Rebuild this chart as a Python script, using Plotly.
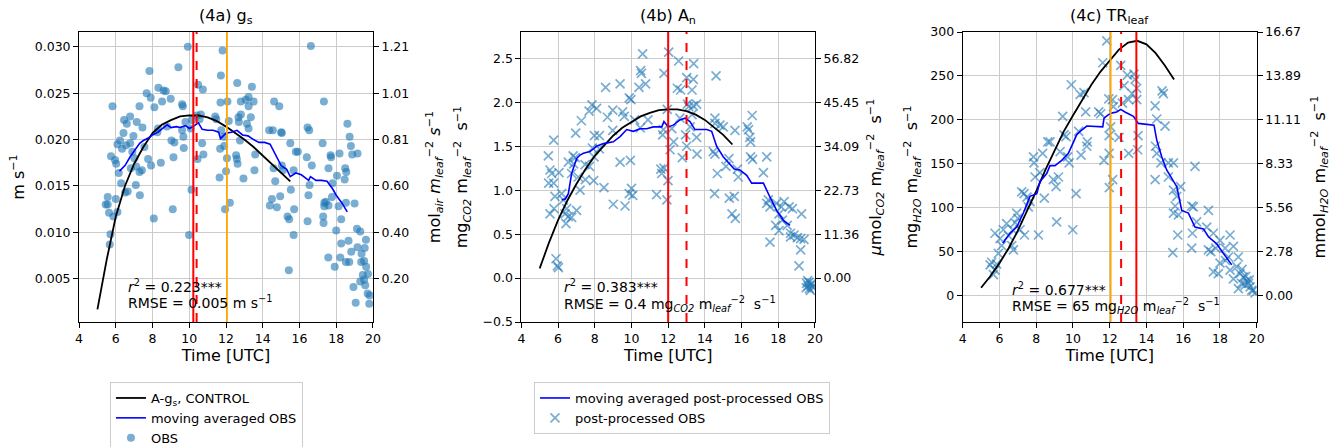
import plotly.graph_objects as go

FONT = "DejaVu Sans"
OBS_COLOR = "rgba(31,119,180,0.6)"

x_ticks = [4, 6, 8, 10, 12, 14, 16, 18, 20]

# ---------------- (4a) g_s ----------------
gs_ticks = [0.005, 0.010, 0.015, 0.020, 0.025, 0.030]
gs_range = [0.00033, 0.0316]
gs_to_mol = 40.3
gs_vlines_red = [10.22]
gs_vlines_red_dash = [10.40]
gs_vlines_orange = [12.05]

gs_model_t = [5, 5.5, 6, 6.5, 7, 7.5, 8, 8.5, 9, 9.5, 10, 10.5, 11, 11.5, 12, 12.5,
              13, 13.5, 14, 14.5, 15, 15.5]
gs_model = [0.0017, 0.0070, 0.0117, 0.0150, 0.0174, 0.0192, 0.0207, 0.0216, 0.0221,
            0.0225, 0.0226, 0.0226, 0.0224, 0.0220, 0.0214, 0.0207, 0.0200, 0.0192,
            0.0183, 0.0174, 0.0165, 0.0155]

gs_avg_t = [6.2, 6.5, 6.8, 7.0, 7.3, 7.5, 7.8, 8.0, 8.3, 8.6, 8.8, 9.0, 9.3, 9.5, 9.8,
            10.0, 10.2, 10.5, 10.7, 11.0, 11.3, 11.6, 11.7, 12.0, 12.3, 12.6, 12.9,
            13.2, 13.5, 13.8, 14.1, 14.4, 14.7, 15.0, 15.3, 15.5, 15.8, 16.1, 16.5,
            16.6, 16.9, 17.2, 17.5, 17.8, 18.0, 18.3, 18.6]
gs_avg = [0.0166, 0.0172, 0.0182, 0.0188, 0.0196, 0.0199, 0.0202, 0.0205, 0.0208,
          0.0213, 0.0216, 0.0213, 0.0214, 0.0213, 0.0215, 0.0212, 0.0214, 0.0218,
          0.0211, 0.0210, 0.0210, 0.0208, 0.0201, 0.0207, 0.0208, 0.0210, 0.0205,
          0.0204, 0.0200, 0.0197, 0.0197, 0.0195, 0.0184, 0.0172, 0.0168, 0.0160,
          0.0164, 0.0162, 0.0156, 0.0160, 0.0156, 0.0156, 0.0155, 0.0147, 0.0140,
          0.0132, 0.0122]

gs_obs_t = [9.92, 16.62, 11.81, 7.83, 9.41, 11.72, 12.61, 10.48, 10.74, 8.32,
            7.68, 7.90, 8.60, 8.72, 8.99, 8.52, 8.10, 7.29, 5.82, 9.61,
            9.65, 13.41, 12.08, 12.81, 13.08, 13.23, 13.50, 13.23, 11.70, 14.62,
            14.90, 17.33, 6.45, 6.60, 6.78, 7.14, 7.45, 6.96, 6.09, 6.23,
            6.34, 6.56, 6.78, 6.42, 7.01, 6.90, 5.74, 5.96, 6.02, 6.16,
            6.82, 7.11, 7.29, 7.42, 7.92, 7.76, 8.45, 9.14, 7.56, 8.30,
            8.26, 8.78, 9.03, 9.19, 9.68, 9.70, 9.61, 9.79, 10.08, 10.14,
            10.41, 10.63, 10.56, 10.70, 10.77, 10.45, 10.12, 9.99, 9.10, 8.07,
            7.09, 7.31, 6.65, 6.51, 6.29, 6.00, 5.56, 5.45, 5.56, 5.63,
            5.87, 6.09, 5.71, 5.67, 11.41, 11.47, 12.15, 12.68, 12.81, 12.70,
            13.14, 13.23, 13.35, 11.74, 11.89, 11.90, 12.05, 11.68, 12.55, 12.63,
            12.59, 12.76, 12.95, 11.65, 12.00, 13.55, 13.59, 12.21, 11.95, 14.35,
            14.55, 15.00, 15.04, 15.50, 15.80, 15.91, 16.40, 16.44, 16.53, 16.67,
            16.55, 17.26, 17.69, 17.72, 17.58, 18.18, 18.61, 18.73, 18.80, 18.87,
            19.16, 18.49, 18.55, 18.46, 18.04, 17.80, 17.35, 17.44, 17.58, 17.35,
            17.77, 18.13, 18.53, 19.00, 17.29, 17.31, 16.44, 16.49, 18.27, 18.00,
            19.13, 19.31, 18.27, 18.67, 18.82, 19.16, 19.55, 19.62, 19.38, 19.36,
            19.52, 19.63, 18.53, 18.71, 18.22, 17.57, 17.92, 19.73, 19.45, 19.52,
            19.31, 19.58, 18.94, 19.71, 19.82, 19.80, 19.06, 15.42, 15.35, 15.44,
            15.68, 15.71, 14.39, 14.77, 14.50, 14.95, 14.68, 14.59, 15.10, 15.04,
            15.53, 15.68]
gs_obs = [0.0300, 0.0301, 0.0296, 0.0274, 0.0278, 0.0269, 0.0261, 0.0259, 0.0254, 0.0256,
          0.0250, 0.0245, 0.0253, 0.0252, 0.0244, 0.0241, 0.0235, 0.0236, 0.0236, 0.0238,
          0.0236, 0.0257, 0.0241, 0.0241, 0.0243, 0.0246, 0.0241, 0.0236, 0.0240, 0.0241,
          0.0236, 0.0241, 0.0221, 0.0217, 0.0225, 0.0219, 0.0213, 0.0204, 0.0195, 0.0199,
          0.0190, 0.0194, 0.0196, 0.0207, 0.0180, 0.0187, 0.0182, 0.0178, 0.0174, 0.0164,
          0.0169, 0.0171, 0.0165, 0.0167, 0.0172, 0.0179, 0.0175, 0.0181, 0.0192, 0.0212,
          0.0208, 0.0214, 0.0199, 0.0197, 0.0203, 0.0191, 0.0210, 0.0219, 0.0212, 0.0221,
          0.0226, 0.0227, 0.0222, 0.0196, 0.0184, 0.0179, 0.0146, 0.0097, 0.0125, 0.0115,
          0.0151, 0.0140, 0.0144, 0.0143, 0.0153, 0.0136, 0.0138, 0.0130, 0.0130, 0.0121,
          0.0117, 0.0122, 0.0098, 0.0087, 0.0225, 0.0222, 0.0220, 0.0224, 0.0227, 0.0219,
          0.0217, 0.0212, 0.0224, 0.0210, 0.0203, 0.0193, 0.0180, 0.0190, 0.0183, 0.0174,
          0.0179, 0.0199, 0.0158, 0.0159, 0.0166, 0.0167, 0.0184, 0.0132, 0.0125, 0.0210,
          0.0210, 0.0208, 0.0207, 0.0196, 0.0187, 0.0187, 0.0181, 0.0213, 0.0210, 0.0172,
          0.0151, 0.0196, 0.0183, 0.0181, 0.0169, 0.0185, 0.0217, 0.0203, 0.0193, 0.0184,
          0.0185, 0.0169, 0.0165, 0.0157, 0.0161, 0.0153, 0.0132, 0.0133, 0.0129, 0.0128,
          0.0138, 0.0128, 0.0132, 0.0131, 0.0117, 0.0110, 0.0112, 0.0140, 0.0114, 0.0102,
          0.0104, 0.0101, 0.0088, 0.0091, 0.0079, 0.0084, 0.0083, 0.0092, 0.0077, 0.0068,
          0.0069, 0.0063, 0.0068, 0.0068, 0.0073, 0.0073, 0.0063, 0.0055, 0.0054, 0.0049,
          0.0047, 0.0043, 0.0041, 0.0034, 0.0032, 0.0023, 0.0024, 0.0059, 0.0117, 0.0114,
          0.0097, 0.0125, 0.0129, 0.0127, 0.0136, 0.0139, 0.0155, 0.0169, 0.0167, 0.0172,
          0.0146, 0.0167]

# ---------------- (4b) A_n ----------------
an_ticks = [-0.5, 0.0, 0.5, 1.0, 1.5, 2.0, 2.5]
an_right_ticks = [0.0, 0.5, 1.0, 1.5, 2.0, 2.5]
an_range = [-0.5, 2.8]
an_to_umol = 1000.0 / 44.0
an_vlines_red = [12.0]
an_vlines_red_dash = [13.0]

an_model_t = [5, 5.5, 6, 6.5, 7, 7.5, 8, 8.5, 9, 9.5, 10, 10.5, 11, 11.5, 12, 12.5,
              13, 13.5, 14, 14.5, 15, 15.5]
an_model = [0.11, 0.40, 0.66, 0.88, 1.07, 1.24, 1.39, 1.51, 1.62, 1.71, 1.78, 1.84,
            1.88, 1.91, 1.92, 1.92, 1.90, 1.86, 1.80, 1.72, 1.63, 1.52]

an_avg_t = [6.2, 6.4, 6.56, 6.74, 7.01, 7.2, 7.38, 7.74, 8.1, 8.47, 9.01, 9.38, 9.74,
            10.1, 10.47, 10.83, 11.19, 11.65, 11.77, 12.01, 12.28, 12.64, 12.92, 13.19,
            13.46, 14.1, 14.37, 14.64, 15.0, 15.37, 15.6, 15.91, 16.28, 16.55, 17.19,
            17.55, 17.91, 18.27, 18.64]
an_avg = [0.89, 0.90, 0.96, 1.19, 1.36, 1.40, 1.42, 1.44, 1.50, 1.53, 1.55, 1.61, 1.69,
          1.67, 1.70, 1.70, 1.72, 1.72, 1.78, 1.72, 1.74, 1.80, 1.82, 1.78, 1.69, 1.69,
          1.67, 1.50, 1.38, 1.30, 1.24, 1.23, 1.17, 1.08, 1.08, 0.92, 0.77, 0.66, 0.60]

an_obs_t = [10.61, 12.03, 12.57, 13.39, 14.61, 10.50, 10.54, 11.77, 13.01, 13.37,
            9.38, 8.59, 10.77, 10.41, 12.50, 12.68, 13.30, 9.88, 9.97, 13.05,
            13.12, 13.37, 13.55, 7.85, 8.10, 7.69, 8.69, 8.98, 9.52, 9.61,
            7.27, 6.96, 7.98, 8.25, 5.76, 8.98, 10.48, 10.17, 11.74, 11.70,
            12.64, 14.55, 14.82, 15.00, 14.55, 15.64, 16.31, 16.38, 16.58, 16.45,
            16.49, 13.55, 12.10, 14.55, 14.46, 15.31, 13.01, 12.77, 13.57, 16.49,
            16.60, 17.37, 9.38, 9.94, 7.96, 7.87, 7.47, 7.71, 6.94, 6.82,
            6.56, 6.74, 5.47, 5.56, 5.65, 5.49, 5.76, 7.49, 7.94, 8.50,
            7.20, 10.00, 9.88, 10.07, 9.01, 9.65, 11.37, 11.93, 11.99, 11.65,
            11.77, 14.53, 15.33, 15.60, 15.48, 15.66, 14.68, 15.15, 15.77, 15.82,
            17.19, 5.83, 6.20, 6.29, 6.38, 6.43, 6.56, 6.47, 5.78, 5.56,
            6.74, 7.01, 5.96, 5.89, 6.02, 17.37, 17.55, 17.46, 17.90, 18.04,
            18.17, 18.32, 18.59, 18.77, 18.22, 17.86, 18.04, 18.49, 18.67, 17.55,
            18.67, 18.86, 19.04, 19.22, 19.40, 19.27, 19.22, 19.13, 19.55, 19.62,
            19.70, 19.78, 19.85, 19.60, 19.68, 19.75, 19.52, 19.82, 12.20, 12.95,
            13.20, 11.60, 6.05, 6.85, 7.10, 8.25, 10.90, 11.95, 12.30, 13.30]
an_obs = [2.55, 2.57, 2.47, 2.44, 2.30, 2.36, 2.33, 2.33, 2.28, 2.26,
          2.21, 2.17, 2.21, 2.17, 2.16, 2.14, 2.14, 2.05, 2.03, 1.98,
          1.95, 1.96, 1.98, 1.97, 1.93, 1.90, 1.83, 1.91, 1.89, 1.84,
          1.79, 1.65, 1.62, 1.62, 1.57, 1.68, 1.71, 1.80, 1.69, 1.63,
          1.82, 1.82, 1.74, 1.72, 1.76, 1.68, 1.72, 1.69, 1.85, 1.60,
          1.55, 1.60, 1.46, 1.41, 1.44, 1.36, 1.50, 1.37, 1.41, 1.38,
          1.35, 1.38, 1.32, 1.34, 1.38, 1.48, 1.29, 1.27, 1.37, 1.39,
          1.32, 1.19, 1.39, 1.23, 1.19, 1.08, 1.08, 1.12, 1.11, 1.03,
          1.00, 1.02, 0.96, 0.94, 0.84, 0.82, 0.95, 0.89, 1.11, 1.19,
          1.25, 0.96, 0.91, 0.93, 0.73, 0.68, 1.19, 1.27, 1.24, 1.15,
          1.20, 0.93, 0.96, 0.89, 0.73, 0.62, 0.70, 0.79, 0.79, 0.73,
          0.69, 0.77, 0.14, 0.22, 0.12, 0.85, 0.81, 0.89, 0.85, 0.73,
          0.81, 0.87, 0.81, 0.79, 0.66, 0.60, 0.54, 0.60, 0.51, 0.41,
          0.47, 0.49, 0.46, 0.45, 0.44, 0.73, 0.32, 0.14, -0.06, -0.09,
          -0.12, -0.08, -0.10, -0.03, -0.05, -0.14, -0.11, -0.06, 1.70, 1.63,
          1.72, 1.24, 1.20, 1.30, 1.15, 1.47, 1.80, 1.92, 1.55, 1.86]

# ---------------- (4c) TR_leaf ----------------
tr_ticks = [0, 50, 100, 150, 200, 250, 300]
tr_range = [-30, 300]
tr_to_mmol = 1.0 / 18.0
tr_vlines_orange = [12.05]
tr_vlines_red_dash = [12.62]
tr_vlines_red = [13.45]

tr_model_t = [5, 5.5, 6, 6.5, 7, 7.5, 8, 8.5, 9, 9.5, 10, 10.5, 11, 11.5, 12, 12.5,
              13, 13.5, 14, 14.5, 15, 15.5]
tr_model = [9, 22, 37, 54, 74, 96, 119, 143, 166, 187, 205, 223, 240, 255, 268, 280,
            288, 290, 286, 276, 262, 246]

tr_avg_t = [6.18, 6.58, 6.94, 7.30, 7.66, 8.03, 8.21, 8.57, 8.75, 9.02, 9.39, 9.75,
            9.99, 10.2, 10.39, 10.75, 11.62, 11.69, 11.93, 12.15, 12.38, 12.6, 12.83,
            13.29, 13.56, 14.41, 14.56, 14.83, 15.1, 15.28, 15.47, 15.65, 15.92, 16.28,
            16.64, 17.10, 17.37, 17.82, 18.19, 18.64]
tr_avg = [60, 71, 78, 94, 113, 116, 130, 139, 148, 148, 154, 162, 173, 183, 187, 193,
          192, 202, 206, 208, 209, 212, 209, 204, 196, 194, 177, 158, 143, 137, 130,
          124, 97, 94, 78, 76, 67, 59, 48, 35]

tr_obs_t = [11.84, 11.62, 12.60, 12.96, 13.32, 13.38, 12.78, 13.47, 13.02, 13.47,
            12.69, 12.15, 12.20, 13.22, 9.91, 10.39, 10.60, 10.69, 11.40, 11.51,
            11.95, 9.44, 9.62, 10.78, 10.31, 10.75, 10.44, 9.71, 9.79, 12.05,
            11.97, 12.50, 13.54, 13.03, 13.52, 11.97, 11.69, 12.16, 11.98, 14.47,
            14.56, 14.85, 14.92, 15.01, 14.49, 14.56, 14.79, 15.19, 15.47, 15.19,
            14.47, 15.47, 15.65, 15.86, 15.56, 15.47, 15.74, 15.70, 15.43, 16.46,
            16.55, 16.64, 16.50, 16.46, 16.73, 17.37, 17.28, 17.37, 17.64, 17.50,
            17.77, 18.00, 18.28, 18.55, 18.73, 18.46, 18.00, 17.64, 17.91, 19.00,
            18.91, 19.09, 19.27, 19.46, 19.37, 19.55, 19.64, 19.73, 19.82, 19.91,
            19.18, 19.00, 18.73, 18.55, 5.58, 5.49, 5.76, 5.67, 5.85, 5.94,
            5.76, 6.03, 6.12, 6.21, 6.39, 6.67, 6.72, 6.85, 6.94, 7.21,
            7.34, 7.36, 7.12, 6.76, 7.57, 7.66, 7.85, 7.88, 7.94, 8.12,
            8.44, 8.35, 8.63, 8.75, 8.93, 9.08, 9.21, 9.11, 9.99, 10.17,
            9.30, 9.51, 6.50, 7.00, 7.50, 8.20, 19.40, 19.60, 19.20, 18.30]
tr_obs = [290, 265, 262, 251, 252, 246, 239, 236, 223, 223,
          219, 223, 215, 230, 240, 229, 231, 209, 209, 207,
          224, 204, 181, 175, 187, 170, 160, 158, 151, 192,
          182, 180, 182, 162, 166, 162, 154, 132, 123, 216,
          201, 233, 230, 193, 170, 162, 151, 151, 151, 135,
          132, 120, 113, 124, 102, 94, 92, 69, 49, 102,
          101, 147, 71, 54, 84, 97, 78, 52, 71, 50,
          54, 63, 54, 69, 56, 44, 37, 27, 25, 44,
          33, 25, 21, 17, 12, 14, 10, 6, 6, 3,
          14, 8, 19, 29, 38, 35, 29, 24, 36, 48,
          71, 65, 57, 75, 82, 57, 75, 83, 94, 118,
          116, 69, 75, 52, 101, 107, 158, 151, 135, 69,
          111, 162, 175, 175, 132, 124, 135, 84, 75, 116,
          164, 183, 68, 88, 112, 140, 22, 18, 30, 40]

# ---------------- figure ----------------
dom_y = [0.2796, 0.9284]
dom_x = [[0.0594, 0.2802], [0.3917, 0.6123], [0.7233, 0.9442]]

fig = go.Figure()

# panel a
fig.add_trace(go.Scatter(x=gs_obs_t, y=gs_obs, mode="markers", name="OBS",
                         marker=dict(color=OBS_COLOR, size=8), xaxis="x", yaxis="y",
                         legend="legend", legendrank=3))
fig.add_trace(go.Scatter(x=gs_model_t, y=gs_model, mode="lines", name="A-g<sub>s</sub>, CONTROL",
                         line=dict(color="black", width=1.8), xaxis="x", yaxis="y",
                         legend="legend", legendrank=1))
fig.add_trace(go.Scatter(x=gs_avg_t, y=gs_avg, mode="lines", name="moving averaged OBS",
                         line=dict(color="blue", width=1.6), xaxis="x", yaxis="y",
                         legend="legend", legendrank=2))
# panel b
xmark = dict(color=OBS_COLOR, size=9, symbol="x-thin", line=dict(color=OBS_COLOR, width=1.7))
fig.add_trace(go.Scatter(x=an_obs_t, y=an_obs, mode="markers", name="post-processed OBS",
                         marker=xmark, xaxis="x2", yaxis="y3", legend="legend2", legendrank=2))
fig.add_trace(go.Scatter(x=an_model_t, y=an_model, mode="lines", showlegend=False,
                         line=dict(color="black", width=1.8), xaxis="x2", yaxis="y3"))
fig.add_trace(go.Scatter(x=an_avg_t, y=an_avg, mode="lines",
                         name="moving averaged post-processed OBS",
                         line=dict(color="blue", width=1.6), xaxis="x2", yaxis="y3",
                         legend="legend2", legendrank=1))
# panel c
fig.add_trace(go.Scatter(x=tr_obs_t, y=tr_obs, mode="markers", showlegend=False,
                         marker=xmark, xaxis="x3", yaxis="y5"))
fig.add_trace(go.Scatter(x=tr_model_t, y=tr_model, mode="lines", showlegend=False,
                         line=dict(color="black", width=1.8), xaxis="x3", yaxis="y5"))
fig.add_trace(go.Scatter(x=tr_avg_t, y=tr_avg, mode="lines", showlegend=False,
                         line=dict(color="blue", width=1.6), xaxis="x3", yaxis="y5"))
# secondary (unit-converted) axes carriers
for xa, ya in [("x", "y2"), ("x2", "y4"), ("x3", "y6")]:
    fig.add_trace(go.Scatter(x=[None], y=[None], mode="markers", showlegend=False,
                             hoverinfo="skip", xaxis=xa, yaxis=ya))

tickfont = dict(family=FONT, size=12.5, color="black")
titlefont = dict(family=FONT, size=16, color="black")
common = dict(showline=True, linecolor="black", linewidth=1, ticks="outside", ticklen=5,
              tickcolor="black", tickfont=tickfont, zeroline=False)

def xax(i, anchor):
    return dict(domain=dom_x[i], anchor=anchor, range=[4, 20], tickvals=x_ticks,
                showgrid=True, gridcolor="#cccccc", gridwidth=1, mirror=True,
                title=dict(text="Time [UTC]", font=titlefont, standoff=4), **common)

def yax(i, anchor, rng, ticks, title, fmt, standoff):
    return dict(domain=dom_y, anchor=anchor, range=rng, tickvals=ticks, tickformat=fmt,
                showgrid=True, gridcolor="#cccccc", gridwidth=1, mirror=True,
                title=dict(text=title, font=titlefont, standoff=standoff), **common)

def yax2(over, anchor, rng, ticks, factor, title, standoff):
    return dict(overlaying=over, anchor=anchor, side="right",
                range=[rng[0] * factor, rng[1] * factor],
                tickvals=[t * factor for t in ticks], tickformat=".2f",
                showgrid=False, title=dict(text=title, font=titlefont, standoff=standoff),
                showline=False, ticks="outside", ticklen=5, tickcolor="black",
                tickfont=tickfont, zeroline=False)

leaf = "m<sub><i>leaf</i></sub><sup>−2</sup>"
fig.update_layout(
    xaxis=xax(0, "y"),
    yaxis=yax(0, "x", gs_range, gs_ticks, "m s<sup>−1</sup>", ".3f", 6),
    yaxis2=yax2("y", "x", gs_range, gs_ticks, gs_to_mol,
                "mol<sub><i>air</i></sub> " + "<i>m</i><sub><i>leaf</i></sub><sup>−2</sup> <i>s</i><sup>−1</sup>", 20),
    xaxis2=xax(1, "y3"),
    yaxis3=yax(1, "x2", an_range, an_ticks,
               "mg<sub><i>CO2</i></sub> " + leaf + "  s<sup>−1</sup>", ".1f", 10),
    yaxis4=yax2("y3", "x2", an_range, an_right_ticks, an_to_umol,
                "<i>μ</i>mol<sub><i>CO2</i></sub> " + leaf + "  s<sup>−1</sup>", 11),
    xaxis3=xax(2, "y5"),
    yaxis5=yax(2, "x3", tr_range, tr_ticks,
               "mg<sub><i>H2O</i></sub> " + leaf + "  s<sup>−1</sup>", "d", 8),
    yaxis6=yax2("y5", "x3", tr_range, tr_ticks, tr_to_mmol,
                "mmol<sub><i>H2O</i></sub> " + leaf + "  s<sup>−1</sup>", 13),
)

# vertical lines
shapes = []
def vlines(xs, xref, yref, color, dash, width):
    for v in xs:
        shapes.append(dict(type="line", xref=xref, yref=yref + " domain", x0=v, x1=v,
                           y0=0, y1=1, line=dict(color=color, dash=dash, width=width)))
vlines(gs_vlines_red, "x", "y", "red", "solid", 2)
vlines(gs_vlines_red_dash, "x", "y", "red", "dash", 2)
vlines(gs_vlines_orange, "x", "y", "orange", "solid", 1.8)
vlines(an_vlines_red, "x2", "y3", "red", "solid", 2)
vlines(an_vlines_red_dash, "x2", "y3", "red", "dash", 2)
vlines(tr_vlines_orange, "x3", "y5", "orange", "solid", 1.8)
vlines(tr_vlines_red_dash, "x3", "y5", "red", "dash", 2)
vlines(tr_vlines_red, "x3", "y5", "red", "solid", 2)
fig.update_layout(shapes=shapes)

annfont = dict(family=FONT, size=14, color="black")
anns = []
titles = ["(4a) g<sub>s</sub>", "(4b) A<sub>n</sub>", "(4c) TR<sub>leaf</sub>"]
for i, t in enumerate(titles):
    anns.append(dict(text=t, xref="paper", yref="paper", x=sum(dom_x[i]) / 2, y=0.962,
                     xanchor="center", yanchor="middle", showarrow=False,
                     font=dict(family=FONT, size=16, color="black")))
stats = [
    ("x", "y", 0.16, 0.124, 0.069, "<i>r</i><sup>2</sup> = 0.223***",
     "RMSE = 0.005 m s<sup>−1</sup>"),
    ("x2", "y3", 0.139, 0.124, 0.062, "<i>r</i><sup>2</sup> = 0.383***",
     "RMSE = 0.4 mg<sub><i>CO2</i></sub> " + leaf + "  s<sup>−1</sup>"),
    ("x3", "y5", 0.161, 0.114, 0.055, "<i>r</i><sup>2</sup> = 0.677***",
     "RMSE = 65 mg<sub><i>H2O</i></sub> " + leaf + "  s<sup>−1</sup>"),
]
for xa, ya, xx, y1, y2, t1, t2 in stats:
    for yy, tt in [(y1, t1), (y2, t2)]:
        anns.append(dict(text=tt, xref=xa + " domain", yref=ya + " domain", x=xx, y=yy,
                         xanchor="left", yanchor="middle", showarrow=False, font=annfont))
fig.update_layout(annotations=anns)

legfont = dict(family=FONT, size=13, color="black")
fig.update_layout(
    width=1331, height=447,
    margin=dict(l=0, r=0, t=0, b=0, autoexpand=False),
    paper_bgcolor="white", plot_bgcolor="white",
    font=dict(family=FONT, color="black"),
    legend=dict(x=0.0826, y=0.1454, xanchor="left", yanchor="top", font=legfont,
                bordercolor="#cccccc", borderwidth=1, bgcolor="white",
                traceorder="normal", tracegroupgap=0),
    legend2=dict(x=0.4012, y=0.1454, xanchor="left", yanchor="top", font=legfont,
                 bordercolor="#cccccc", borderwidth=1, bgcolor="white",
                 traceorder="normal", tracegroupgap=0),
)

fig.write_html("out.html", config={"displayModeBar": False},
               post_script="document.body.style.margin='0';document.body.style.overflow='hidden';")
